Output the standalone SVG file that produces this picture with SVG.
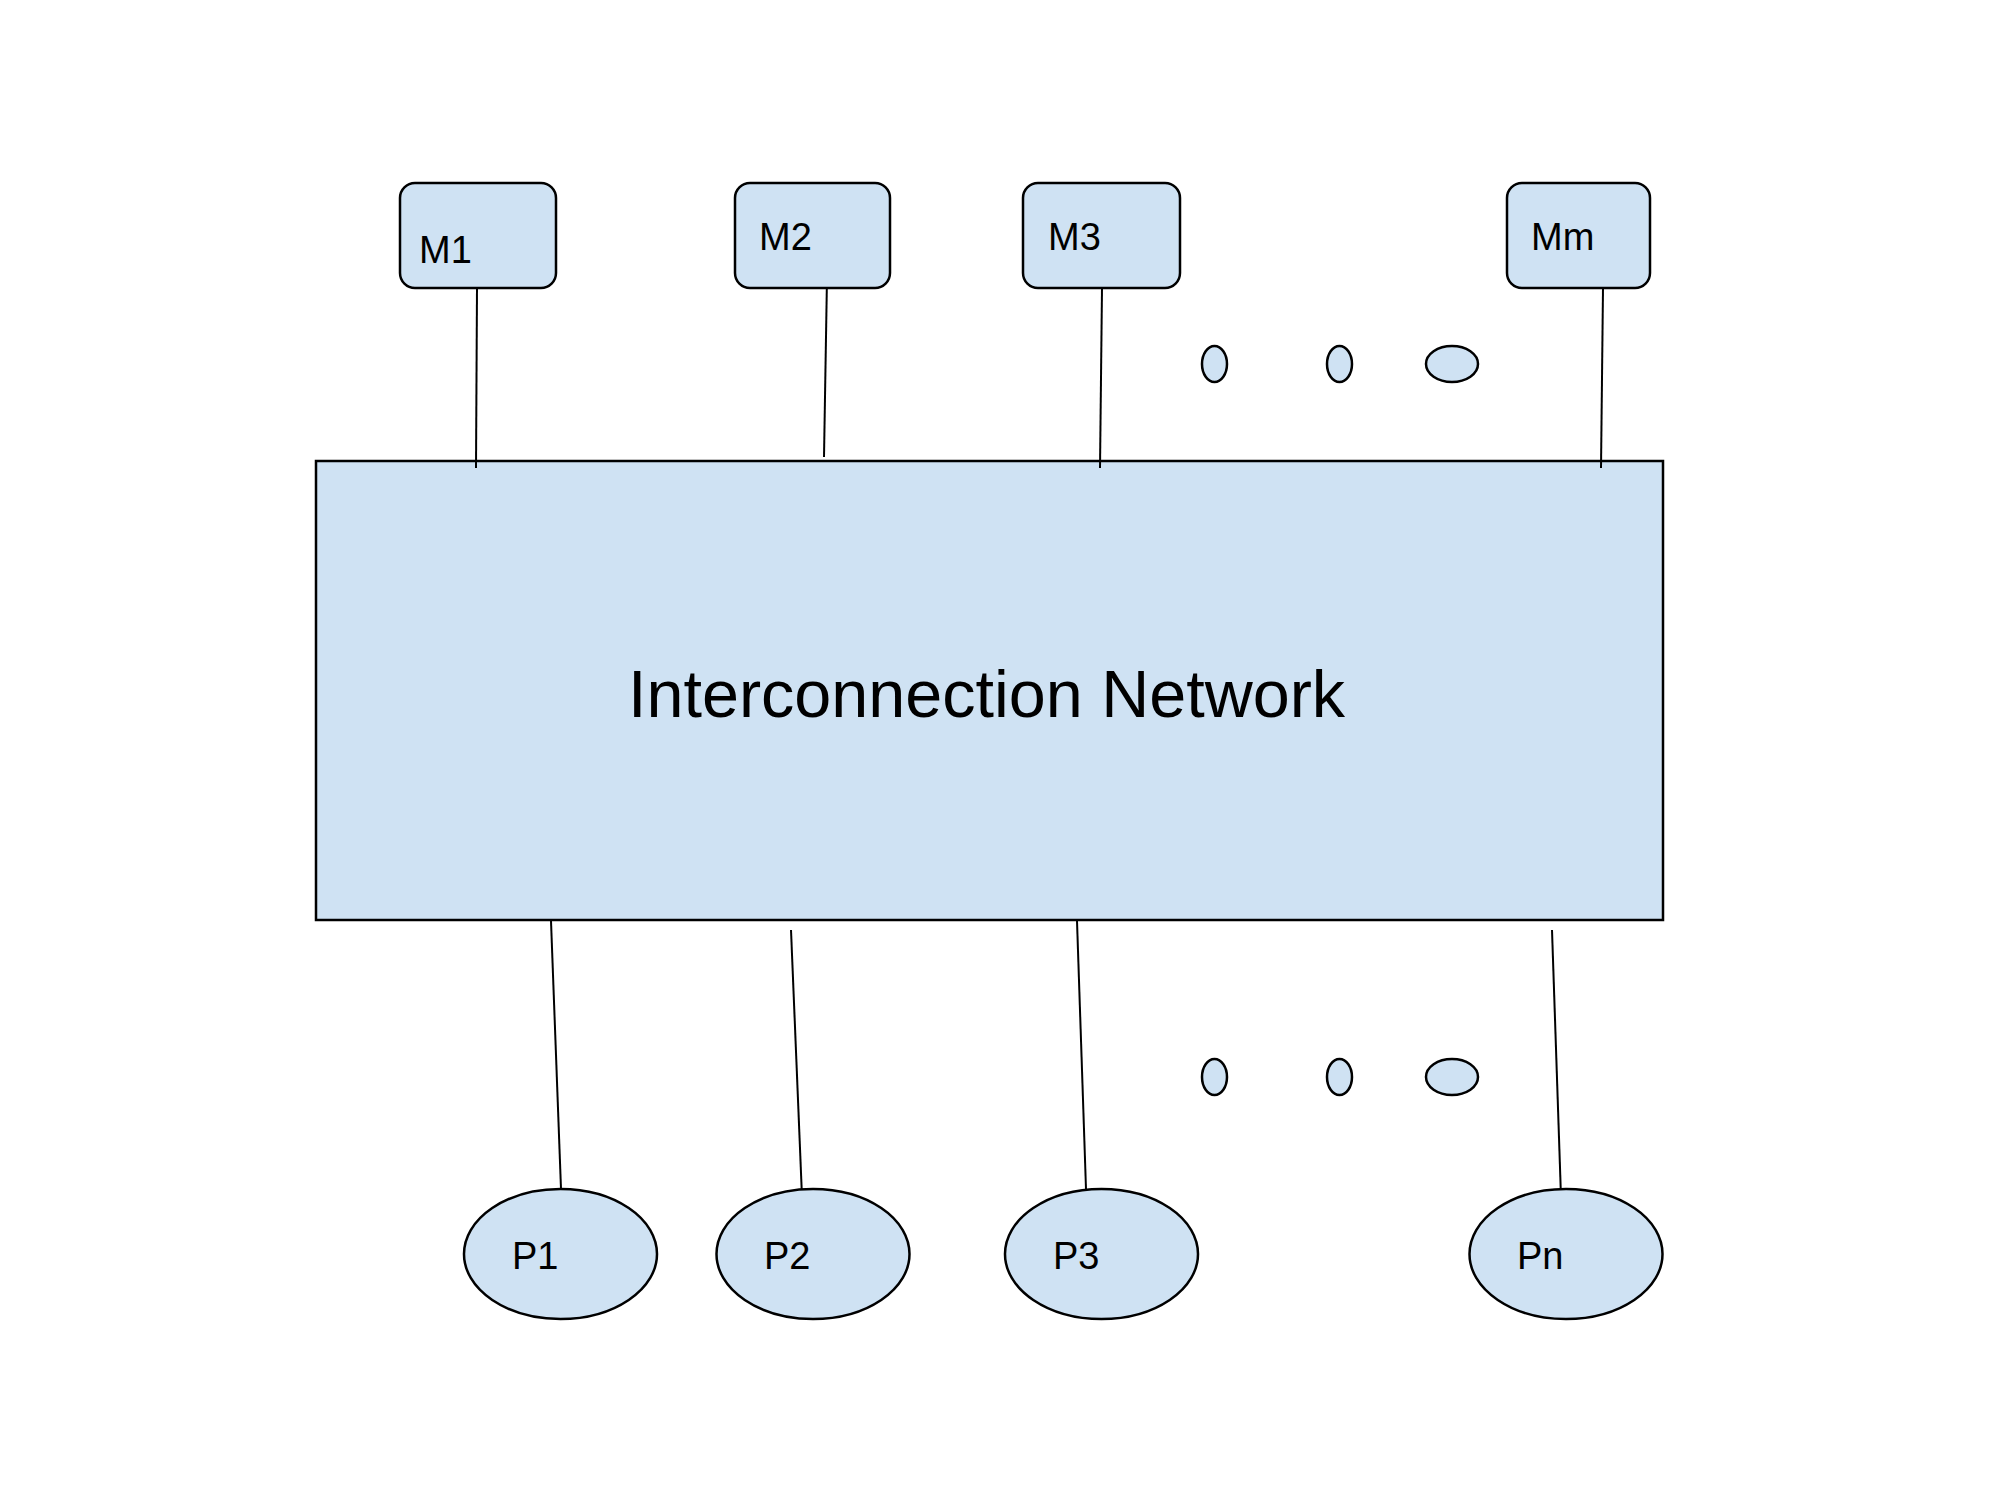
<svg xmlns="http://www.w3.org/2000/svg" width="2000" height="1500" viewBox="0 0 2000 1500">
<style>
.box{fill:#cfe2f3;stroke:#000;stroke-width:2.5}
.ln{stroke:#000;stroke-width:2;fill:none}
.lbl{font-family:"Liberation Sans",Arial,sans-serif;font-size:38px;fill:#000}
.big{font-family:"Liberation Sans",Arial,sans-serif;font-size:66.5px;fill:#000}
</style>
<rect width="2000" height="1500" fill="#fff"/>
<g id="network"><rect class="box" x="316" y="461" width="1347" height="459"/><text class="big" x="628" y="717">Interconnection Network</text></g>
<g id="connectors">
<line class="ln" x1="477" y1="288" x2="476" y2="468"/>
<line class="ln" x1="827" y1="277" x2="824" y2="457"/>
<line class="ln" x1="1102" y1="288" x2="1100" y2="468"/>
<line class="ln" x1="1603" y1="288" x2="1601" y2="468"/>
<line class="ln" x1="551" y1="921" x2="561" y2="1189"/>
<line class="ln" x1="791" y1="930" x2="802" y2="1197"/>
<line class="ln" x1="1077" y1="921" x2="1086" y2="1189"/>
<line class="ln" x1="1552" y1="930" x2="1561" y2="1197"/>
</g>
<g id="M1"><rect class="box" x="400" y="183" width="156" height="105" rx="15"/><text class="lbl" x="419" y="263">M1</text></g>
<g id="M2"><rect class="box" x="735" y="183" width="155" height="105" rx="15"/><text class="lbl" x="759" y="250">M2</text></g>
<g id="M3"><rect class="box" x="1023" y="183" width="157" height="105" rx="15"/><text class="lbl" x="1048" y="250">M3</text></g>
<g id="Mm"><rect class="box" x="1507" y="183" width="143" height="105" rx="15"/><text class="lbl" x="1531" y="250">Mm</text></g>
<g id="dots-top">
<ellipse class="box" cx="1214.5" cy="364" rx="12.5" ry="18"/>
<ellipse class="box" cx="1339.5" cy="364" rx="12.5" ry="18"/>
<ellipse class="box" cx="1452" cy="364" rx="26" ry="18"/>
</g>
<g id="dots-bottom">
<ellipse class="box" cx="1214.5" cy="1077" rx="12.5" ry="18"/>
<ellipse class="box" cx="1339.5" cy="1077" rx="12.5" ry="18"/>
<ellipse class="box" cx="1452" cy="1077" rx="26" ry="18"/>
</g>
<g id="P1"><ellipse class="box" cx="560.5" cy="1254" rx="96.5" ry="65"/><text class="lbl" x="512" y="1269">P1</text></g>
<g id="P2"><ellipse class="box" cx="813" cy="1254" rx="96.5" ry="65"/><text class="lbl" x="764" y="1269">P2</text></g>
<g id="P3"><ellipse class="box" cx="1101.5" cy="1254" rx="96.5" ry="65"/><text class="lbl" x="1053" y="1269">P3</text></g>
<g id="Pn"><ellipse class="box" cx="1566" cy="1254" rx="96.5" ry="65"/><text class="lbl" x="1517" y="1269">Pn</text></g>
</svg>
